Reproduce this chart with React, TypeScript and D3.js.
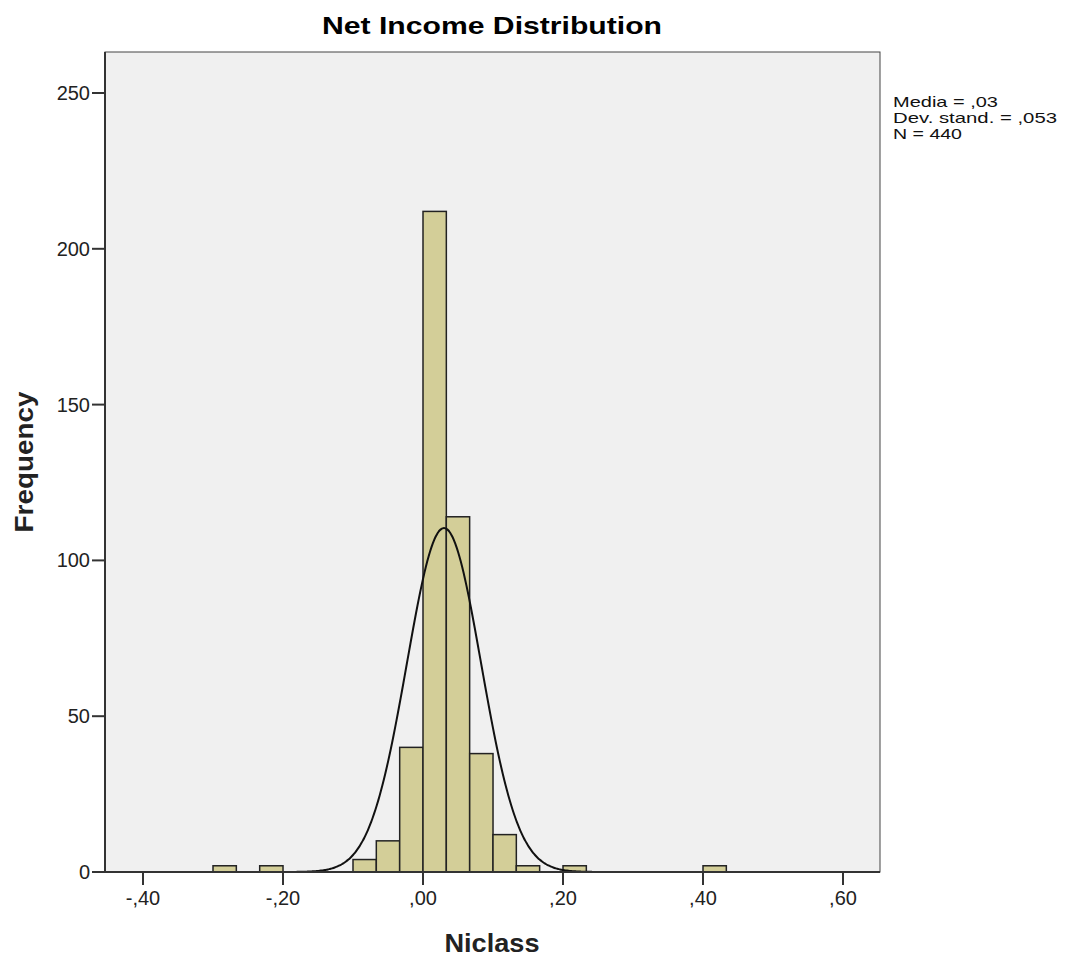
import React from "react";
import * as d3 from "d3";

const binStarts = [-0.3, -0.2333, -0.1, -0.0667, -0.0333, 0, 0.0333, 0.0667, 0.1, 0.1333, 0.2, 0.4];
const binCounts = [2, 2, 4, 10, 40, 212, 114, 38, 12, 2, 2, 2];
const binWidth = 1 / 30;
const xTicks = [-0.4, -0.2, 0, 0.2, 0.4, 0.6];
const xTickLabels = ["-,40", "-,20", ",00", ",20", ",40", ",60"];
const yTicks = [0, 50, 100, 150, 200, 250];
const stats = ["Media = ,03", "Dev. stand. = ,053", "N = 440"];
const statWidths = [105, 164, 69];
const mean = 0.03;
const sd = 0.053;
const N = 440;

export default function App() {
  const W = 1067, H = 957;
  const left = 105, right = 880, top = 52, bottom = 872;
  const x = d3.scaleLinear().domain([-0.4, 0.6]).range([143, 843]);
  const y = d3.scaleLinear().domain([0, 250]).range([bottom, 93]);
  const font = "'Liberation Sans', Arial, sans-serif";

  const curvePts = d3.range(-0.45, 0.65, 0.002).map((v) => {
    const dens = (N * binWidth) / (sd * Math.sqrt(2 * Math.PI)) * Math.exp(-0.5 * ((v - mean) / sd) ** 2);
    return [v, dens] as [number, number];
  });
  const line = d3.line<[number, number]>().x((d) => x(d[0])).y((d) => y(d[1])).curve(d3.curveBasis);

  return (
    <svg width={W} height={H} style={{ position: "absolute", left: 0, top: 0, background: "#fff" }}>
      <text x={492} y={34} textAnchor="middle" fontFamily={font} fontWeight="bold" fontSize={24} fill="#000"
        textLength={340} lengthAdjust="spacingAndGlyphs">
        Net Income Distribution
      </text>
      <rect x={left} y={top} width={right - left} height={bottom - top} fill="#F0F0F0" stroke="#444" strokeWidth={1} />
      <defs>
        <clipPath id="pa">
          <rect x={left} y={top} width={right - left} height={bottom - top} />
        </clipPath>
      </defs>
      <g>
        {binStarts.map((b, i) => (
          <rect
            key={i}
            x={x(b)}
            y={y(binCounts[i])}
            width={x(b + binWidth) - x(b)}
            height={bottom - y(binCounts[i])}
            fill="#D3CE98"
            stroke="#222"
            strokeWidth={1.5}
          />
        ))}
      </g>
      <path d={line(curvePts) || ""} fill="none" stroke="#111" strokeWidth={2} clipPath="url(#pa)" />
      <line x1={left} x2={left} y1={top} y2={bottom} stroke="#333" strokeWidth={2} />
      <line x1={left} x2={right} y1={bottom} y2={bottom} stroke="#333" strokeWidth={2} />
      {yTicks.map((t) => (
        <g key={t}>
          <line x1={left - 13} x2={left} y1={y(t)} y2={y(t)} stroke="#333" strokeWidth={2} />
          <text x={left - 15} y={y(t) + 7} textAnchor="end" fontFamily={font} fontSize={20} fill="#222">
            {t}
          </text>
        </g>
      ))}
      {xTicks.map((t, i) => (
        <g key={t}>
          <line x1={x(t)} x2={x(t)} y1={bottom} y2={bottom + 13} stroke="#333" strokeWidth={2} />
          <text x={x(t)} y={bottom + 33} textAnchor="middle" fontFamily={font} fontSize={20} fill="#222">
            {xTickLabels[i]}
          </text>
        </g>
      ))}
      <text x={492} y={952} textAnchor="middle" fontFamily={font} fontWeight="bold" fontSize={25} fill="#222"
        textLength={95} lengthAdjust="spacingAndGlyphs">
        Niclass
      </text>
      <text
        transform={`translate(33,462) rotate(-90)`}
        textAnchor="middle"
        fontFamily={font}
        fontWeight="bold"
        fontSize={25}
        fill="#222"
        textLength={141}
        lengthAdjust="spacingAndGlyphs"
      >
        Frequency
      </text>
      {stats.map((s, i) => (
        <text key={i} x={893} y={107 + i * 16} fontFamily={font} fontSize={15} fill="#111"
          textLength={statWidths[i]} lengthAdjust="spacingAndGlyphs">
          {s}
        </text>
      ))}
    </svg>
  );
}
